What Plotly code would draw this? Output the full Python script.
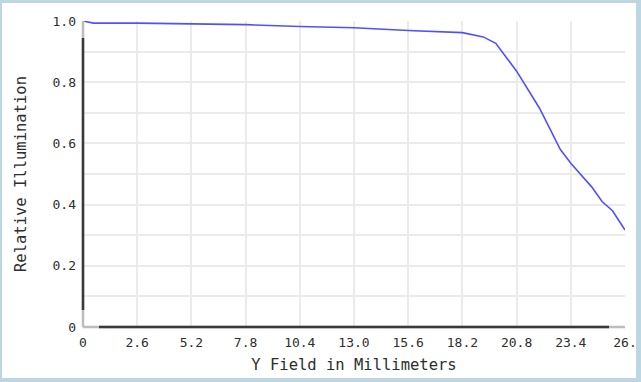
import plotly.graph_objects as go

field_mm = [0.0, 0.5, 2.6, 5.2, 7.8, 10.4, 13.0, 15.6, 18.2, 19.2, 19.8, 20.8,
            21.9, 22.9, 23.4, 24.4, 24.9, 25.4, 26.0]
rel_illum = [1.0, 0.993, 0.993, 0.991, 0.988, 0.982, 0.978, 0.969, 0.962, 0.948,
             0.927, 0.836, 0.715, 0.580, 0.535, 0.458, 0.410, 0.380, 0.317]

x_tickvals = [0, 2.6, 5.2, 7.8, 10.4, 13.0, 15.6, 18.2, 20.8, 23.4, 26.0]
x_ticktext = ["0", "2.6", "5.2", "7.8", "10.4", "13.0", "15.6", "18.2", "20.8", "23.4", "26."]
y_tickvals = [0, 0.2, 0.4, 0.6, 0.8, 1.0]
y_ticktext = ["0", "0.2", "0.4", "0.6", "0.8", "1.0"]

font = "DejaVu Sans Mono"

fig = go.Figure()
fig.add_trace(go.Scatter(x=field_mm, y=rel_illum, mode="lines",
                         line=dict(color="#5050ff", width=1.6),
                         cliponaxis=False, showlegend=False))

W, H = 641, 382
ml, mr, mt, mb = 83, 16, 21, 55
pw, ph = W - ml - mr, H - mt - mb

def px_x(p):
    return (p - ml) / pw

def px_y(p):
    return (H - mb - p) / ph

shapes = [
    dict(type="rect", xref="paper", yref="paper", layer="below",
         x0=px_x(2), x1=px_x(636), y0=px_y(378), y1=px_y(3),
         fillcolor="white", line=dict(width=0)),
    dict(type="line", xref="paper", yref="paper", x0=0, x1=0, y0=0, y1=1,
         line=dict(color="#bdbdbd", width=2.5)),
    dict(type="line", xref="paper", yref="paper", x0=0, x1=1, y0=0, y1=0,
         line=dict(color="#bdbdbd", width=2.5)),
    dict(type="line", xref="paper", yref="paper", x0=0, x1=0,
         y0=px_y(310), y1=px_y(38), line=dict(color="#3a3a3a", width=2.5)),
    dict(type="line", xref="paper", yref="paper", x0=px_x(99), x1=px_x(609),
         y0=0, y1=0, line=dict(color="#3a3a3a", width=2.5)),
]

tick_font = dict(family=font, size=13, color="#2e2e2e")
title_font = dict(family=font, size=15.5, color="#2e2e2e")

fig.update_layout(
    width=W, height=H,
    margin=dict(l=ml, r=mr, t=mt, b=mb),
    paper_bgcolor="#bcd6e2",
    plot_bgcolor="white",
    font=dict(family=font, size=13, color="#2e2e2e"),
    shapes=shapes,
    xaxis=dict(range=[0, 26.0], tickvals=x_tickvals, ticktext=x_ticktext,
               showgrid=True, gridcolor="#ebebeb", gridwidth=1.5,
               zeroline=False, showline=False, ticks="", ticklen=0,
               automargin=False, ticklabelstandoff=6,
               tickfont=tick_font,
               title=dict(text="Y Field in Millimeters", standoff=10,
                          font=title_font)),
    yaxis=dict(range=[0, 1.0], tickvals=y_tickvals, ticktext=y_ticktext,
               showgrid=True, gridcolor="#ebebeb", gridwidth=1.5,
               minor=dict(dtick=0.1, showgrid=True, gridcolor="#ebebeb", gridwidth=1.5),
               zeroline=False, showline=False, ticks="",
               automargin=False, ticklabelstandoff=6,
               tickfont=tick_font,
               title=dict(text="Relative Illumination", standoff=22,
                          font=title_font)),
)

fig.write_html("out.html", config={"displayModeBar": False},
               post_script="document.body.style.margin='0';document.body.style.overflow='hidden';")
